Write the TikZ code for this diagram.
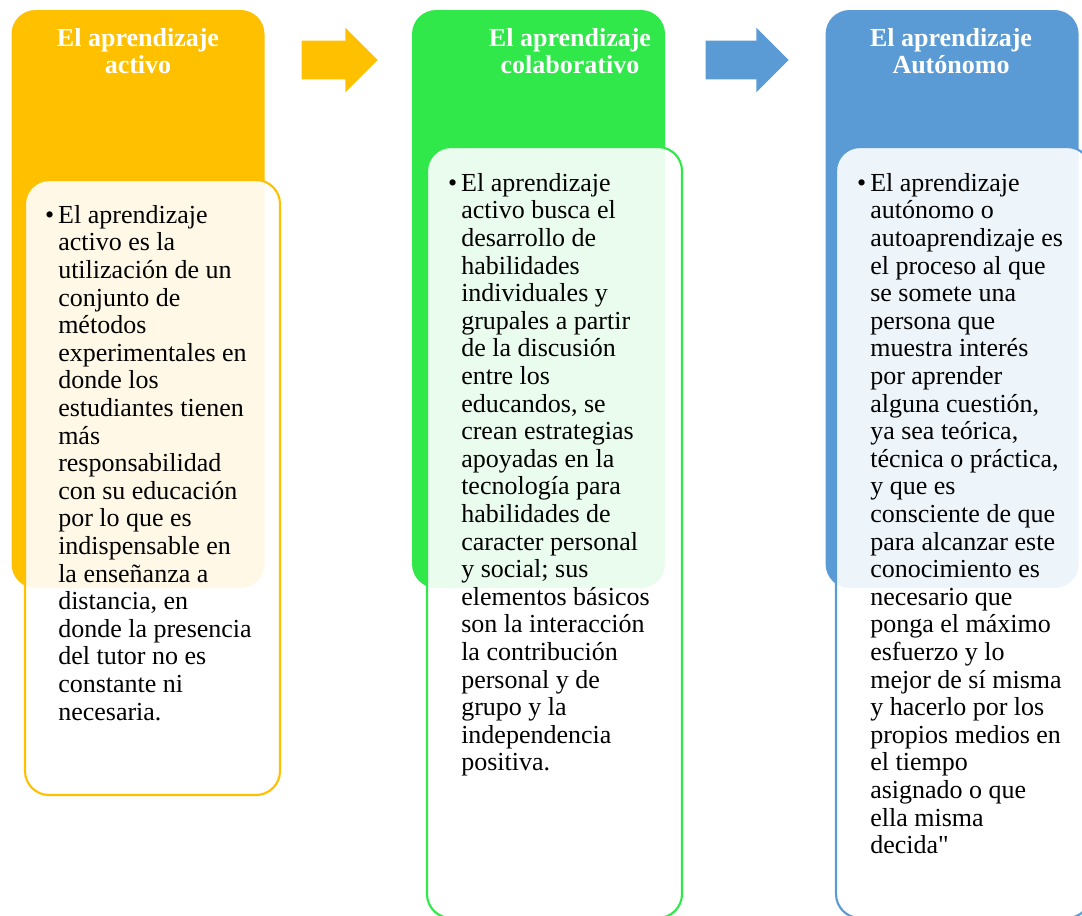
\documentclass[tikz,border=0pt]{standalone}
\usepackage{fontspec}
\setmainfont{Liberation Serif}[Ligatures=TeXOff]
\usetikzlibrary{positioning,shapes.arrows}
\definecolor{ambar}{HTML}{FFC000}
\definecolor{verde}{HTML}{30E84A}
\definecolor{azul}{HTML}{5B9BD5}
\newcommand{\vineta}{\llap{\textbullet\hspace{3pt}}}

\begin{document}
\begin{tikzpicture}[x=0.75pt,y=-0.75pt,
    cabecera/.style={rounded corners=18pt,fill=#1,minimum width=189.75pt,minimum height=433.5pt,inner sep=0pt},
    cuerpo/.style={rounded corners=18pt,draw=#1,line width=1.6pt,fill=white,fill opacity=0.9,minimum width=191.25pt,inner sep=0pt},
    titulo/.style={text=white,font=\fontsize{19.5}{20.7}\selectfont\bfseries,align=center,anchor=north,inner sep=0pt},
    texto/.style={font=\fontsize{19.5}{20.7}\selectfont,align=left,anchor=north west,inner sep=0pt},
    flecha/.style={single arrow,fill=#1,inner xsep=0pt,inner ysep=14.25pt,single arrow head extend=9.75pt,single arrow head indent=0pt}]
    \useasboundingbox (0,0) rectangle (1082,915);
    \clip (0,0) rectangle (1082,915);
    % cabeceras
    \node[cabecera=ambar] (hdrA) at (138,299) {};
    \node[cabecera=verde,right=110.25pt of hdrA] (hdrB) {};
    \node[cabecera=azul,right=120pt of hdrB] (hdrC) {};
    \node[titulo] (titA) at (138,28) {El aprendizaje\\activo};
    \node[titulo] (titB) at (570,28) {El aprendizaje\\colaborativo};
    \node[titulo] (titC) at (951,28) {El aprendizaje\\Autónomo};
    % flechas
    \node[flecha=ambar,minimum height=57pt] (flA) at (330,60) {};
    \node[flecha=azul,minimum height=62.25pt] (flB) at (737.5,60) {};
    % cuerpos
    \node[cuerpo=ambar,minimum height=461.25pt] (cpoA) at (152.5,487.5) {};
    \node[cuerpo=verde,minimum height=578.25pt] (cpoB) at (554.5,532.5) {};
    \node[cuerpo=azul,minimum height=578.25pt] (cpoC) at (963.5,532.5) {};
    \node[texto] (txtA) at (58,205) {\vineta El aprendizaje\\activo es la\\utilización de un\\conjunto de\\métodos\\experimentales en\\donde los\\estudiantes tienen\\más\\responsabilidad\\con su educación\\por lo que es\\indispensable en\\la enseñanza a\\distancia, en\\donde la presencia\\del tutor no es\\constante ni\\necesaria.};
    \node[texto] (txtB) at (461,173) {\vineta El aprendizaje\\activo busca el\\desarrollo de\\habilidades\\individuales y\\grupales a partir\\de la discusión\\entre los\\educandos, se\\crean estrategias\\apoyadas en la\\tecnología para\\habilidades de\\caracter personal\\y social; sus\\elementos básicos\\son la interacción\\la contribución\\personal y de\\grupo y la\\independencia\\positiva.};
    \node[texto] (txtC) at (870,173) {\vineta El aprendizaje\\autónomo o\\autoaprendizaje es\\el proceso al que\\se somete una\\persona que\\muestra interés\\por aprender\\alguna cuestión,\\ya sea teórica,\\técnica o práctica,\\y que es\\consciente de que\\para alcanzar este\\conocimiento es\\necesario que\\ponga el máximo\\esfuerzo y lo\\mejor de sí misma\\y hacerlo por los\\propios medios en\\el tiempo\\asignado o que\\ella misma\\decida"};
\end{tikzpicture}
\end{document}
